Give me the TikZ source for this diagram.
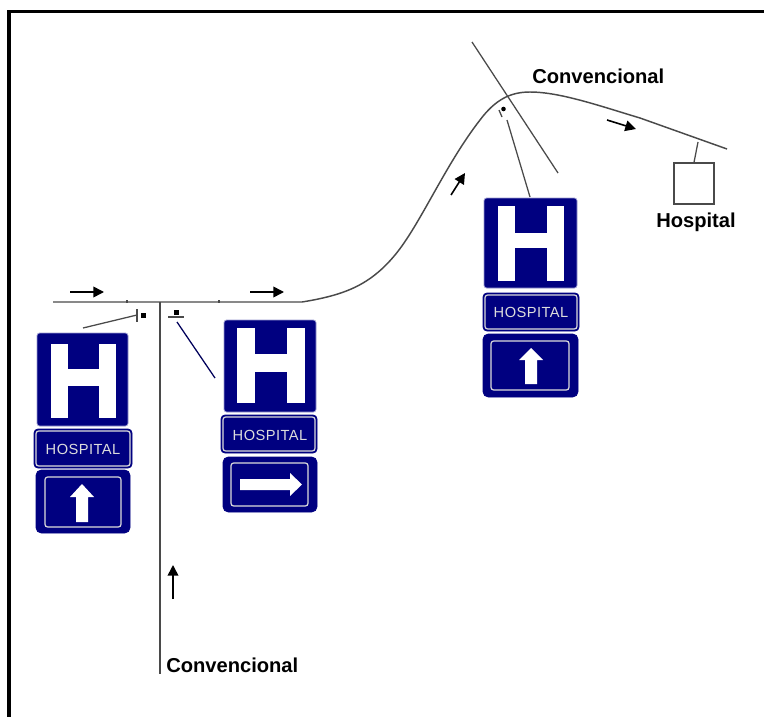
\documentclass[tikz,border=0pt]{standalone}
\usepackage{fontspec}
\setmainfont{Liberation Sans}
\usetikzlibrary{arrows.meta}
\definecolor{signblue}{HTML}{000080}
\definecolor{signedge}{HTML}{9A9AD0}
\definecolor{signtext}{HTML}{DCDCDC}
\definecolor{roadgray}{HTML}{4A4A4A}
\newfontfamily\signfont[LetterSpace=3]{Liberation Sans}
\tikzset{
  x=0.75pt,y=-0.75pt,
  road/.style={draw=roadgray,line width=1.1pt},
  thinline/.style={draw=roadgray,line width=0.95pt},
  dirarrow/.style={draw=black,line width=1.2pt,-{Triangle[length=8pt,width=8pt]}},
  panel/.style={fill=signblue,draw=signedge,line width=0.6pt,rounded corners=2pt},
  plate/.style={fill=signblue,draw=signblue,line width=0.6pt,rounded corners=3pt},
  inset/.style={draw=signtext,line width=0.9pt,rounded corners=2pt},
  signlabel/.style={text=signtext,font=\signfont\fontsize{11pt}{12pt}\selectfont,inner sep=0pt},
  caption/.style={text=black,font=\bfseries\fontsize{15.1pt}{17pt}\selectfont,inner sep=0pt,anchor=base west},
}
% #1..#4 panel corners; #5 H left; #6 stroke; #7 gap; #8 top; #9 crossbar top
\newcommand{\hpanel}[9]{\draw[panel] (#1,#2) rectangle (#3,#4);\hglyph{#5}{#6}{#7}{#8}{#9}}
% #1 left, #2 stroke, #3 gap, #4 top, #5 crossbar top, then {crossbar bottom}{bottom}
\newcommand{\hglyph}[7]{%
  \fill[white] (#1,#4) rectangle (#1+#2,#7);
  \fill[white] (#1+#2+#3,#4) rectangle (#1+#2+#3+#2,#7);
  \fill[white] (#1+#2-0.1,#5) rectangle (#1+#2+#3+0.1,#6);
}
\begin{document}
\begin{tikzpicture}
\useasboundingbox (0,0) rectangle (764,717);
% frame
\fill[black] (7,10) rectangle (764,13.5);
\fill[black] (7,10) rectangle (10.5,717);

% named points
\coordinate (roadW) at (53,302);
\coordinate (junction) at (160,302);
\coordinate (bend) at (302,302);
\coordinate (roadS) at (160,674);
\coordinate (roadE) at (727,149);
\coordinate (crossN) at (472,42);
\coordinate (crossS) at (558,173);

% roads
\draw[road] (roadW) -- (bend)
  .. controls (345,295) and (370,285) .. (395,255)
  .. controls (420,225) and (445,165) .. (480,120)
  .. controls (495,100) and (510,92) .. (530,92)
  .. controls (560,92) and (600,106) .. (640,118)
  -- (roadE);
\draw[road] (junction) -- (roadS);
\draw[thinline] (crossN) -- (crossS);
\draw[thinline] (127,300) -- (127,303);
\draw[thinline] (219,300) -- (219,303);

% direction arrows
\draw[dirarrow] (70,292) -- (104,292);
\draw[dirarrow] (250,292) -- (284,292);
\draw[dirarrow] (173,599) -- (173,565);
\draw[dirarrow] (451,195) -- (465,173);
\draw[dirarrow] (607,120) -- (636,129);

% sign 1
\coordinate (leadA1) at (83,328);
\coordinate (leadA2) at (137,315);
\draw[thinline] (leadA1) -- (leadA2);
\draw[thinline] (137,309) -- (137,322);
\fill[black] (141,313) rectangle (146,318);
\hpanel{37}{333}{128}{426}{51}{17}{31}{344}{369}{386}{418}
\draw[plate] (34,429) rectangle (132,468);
\draw[inset] (36,431) rectangle (130,466);
\node[signlabel] (hosp1) at (83,449) {HOSPITAL};
\draw[plate,rounded corners=4pt] (36,470) rectangle (130,533);
\draw[inset] (45,477) rectangle (121,527);
\fill[white] (82,484) -- (94,497) -- (88,497) -- (88,522) -- (76,522) -- (76,497) -- (70,497) -- cycle;

% sign 2
\coordinate (leadB1) at (177,322);
\coordinate (leadB2) at (215,378);
\draw[draw=signblue!70!black,line width=0.95pt] (leadB1) -- (leadB2);
\draw[thinline] (168,317) -- (184,317);
\fill[black] (173.5,310) rectangle (178.5,315);
\hpanel{224}{320}{316}{412}{237}{18}{32}{328}{354}{372}{403}
\draw[plate] (221,415) rectangle (317,453);
\draw[inset] (223,417) rectangle (315,451);
\node[signlabel] (hosp2) at (270,435) {HOSPITAL};
\draw[plate,rounded corners=4pt] (223,457) rectangle (317,512);
\draw[inset] (231,463) rectangle (308,506);
\fill[white] (302,484.5) -- (290,473) -- (290,479) -- (240,479) -- (240,490) -- (290,490) -- (290,496) -- cycle;

% sign 3
\coordinate (leadC1) at (507,120);
\coordinate (leadC2) at (530,197);
\draw[thinline] (leadC1) -- (leadC2);
\draw[thinline] (499,110) -- (502,117);
\fill[black] (503.5,109) circle (2.3);
\hpanel{484}{198}{577}{288}{498}{17}{32}{206}{233}{248}{281}
\draw[plate] (483,293) rectangle (579,331);
\draw[inset] (485,295) rectangle (577,329);
\node[signlabel] (hosp3) at (531,312) {HOSPITAL};
\draw[plate,rounded corners=4pt] (483,334) rectangle (578,397);
\draw[inset] (491,341) rectangle (569,390);
\fill[white] (531,348) -- (543,360) -- (537,360) -- (537,384) -- (525,384) -- (525,360) -- (519,360) -- cycle;

% hospital building
\node[draw=roadgray,line width=1.1pt,fill=white,minimum width=30pt,minimum height=30.5pt,inner sep=0pt] (hospbox) at (694,183.5) {};
\coordinate (stemTop) at (698,142);
\draw[thinline] (stemTop) -- (hospbox.north);

% captions
\node[caption] (capA) at (166,672.5) {Convencional};
\node[caption] (capB) at (532,83.5) {Convencional};
\node[caption] (capC) at (656,227.5) {Hospital};
\end{tikzpicture}
\end{document}
